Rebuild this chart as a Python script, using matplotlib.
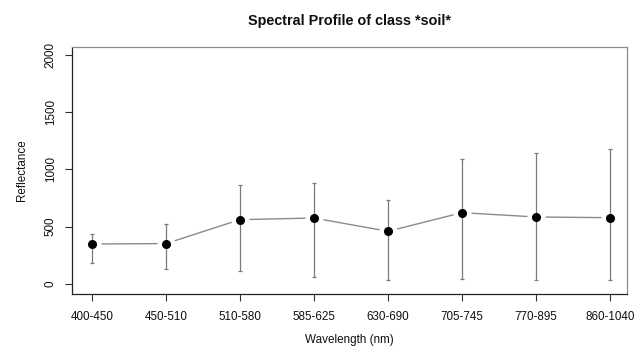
import matplotlib
matplotlib.use("Agg")
import matplotlib.pyplot as plt
import numpy as np

bands = ["400-450", "450-510", "510-580", "585-625", "630-690", "705-745", "770-895", "860-1040"]
mean_vals = [349, 353, 562, 576, 460, 623, 585, 579]
upper_vals = [437, 524, 862, 879, 734, 1094, 1147, 1176]
lower_vals = [183, 134, 114, 64, 35, 41, 35, 35]
y_ticks = [0, 500, 1000, 1500, 2000]

plt.rcParams['font.family'] = ['Liberation Sans', 'DejaVu Sans']

fig = plt.figure(figsize=(6.44, 3.56), dpi=100)
ax = fig.add_axes([72/644, 1-293.5/356, (627-72)/644, (293.5-46.7)/356])

x = np.arange(1, len(bands)+1)
mean = np.array(mean_vals)
up = np.array(upper_vals)
lo = np.array(lower_vals)

ax.plot(x, mean, color="#8a8a8a", lw=1.0, zorder=1)
ax.plot(x, mean, "o", ms=12, color="white", zorder=2)
ax.errorbar(x, mean, yerr=[mean-lo, up-mean], fmt="none", ecolor="#7a7a7a",
            elinewidth=0.9, capsize=1.6, capthick=0.9, zorder=3)
ax.plot(x, mean, "o", ms=5.5, color="black", zorder=4)

ax.set_xlim(0.73, 8.23)
ax.set_ylim(-83, 2072)
ax.set_xticks(x)
ax.set_xticklabels(bands)
ax.set_yticks(y_ticks)
ax.set_yticklabels([str(v) for v in y_ticks], rotation=90, va="center")

for s in ["left", "bottom"]:
    ax.spines[s].set_color("#222222")
for s in ["top", "right"]:
    ax.spines[s].set_color("#8c8c8c")
for s in ax.spines.values():
    s.set_linewidth(0.9)

ax.tick_params(axis="both", direction="out", length=5, width=0.8, color="#333333",
               labelsize=8.4, labelcolor="#111111")
ax.tick_params(axis="x", pad=7.5)
ax.tick_params(axis="y", pad=6)

ax.set_xlabel("Wavelength (nm)", fontsize=8.4, labelpad=8, color="#111111")
ax.set_ylabel("Reflectance", fontsize=8.4, labelpad=12, color="#111111")
fig.text((72+627)/2/644, 1-21/356, "Spectral Profile of class *soil*", ha="center", va="center",
         fontsize=10.4, fontweight="bold", color="#111111")

fig.savefig("out.png", dpi=100, facecolor="white")
